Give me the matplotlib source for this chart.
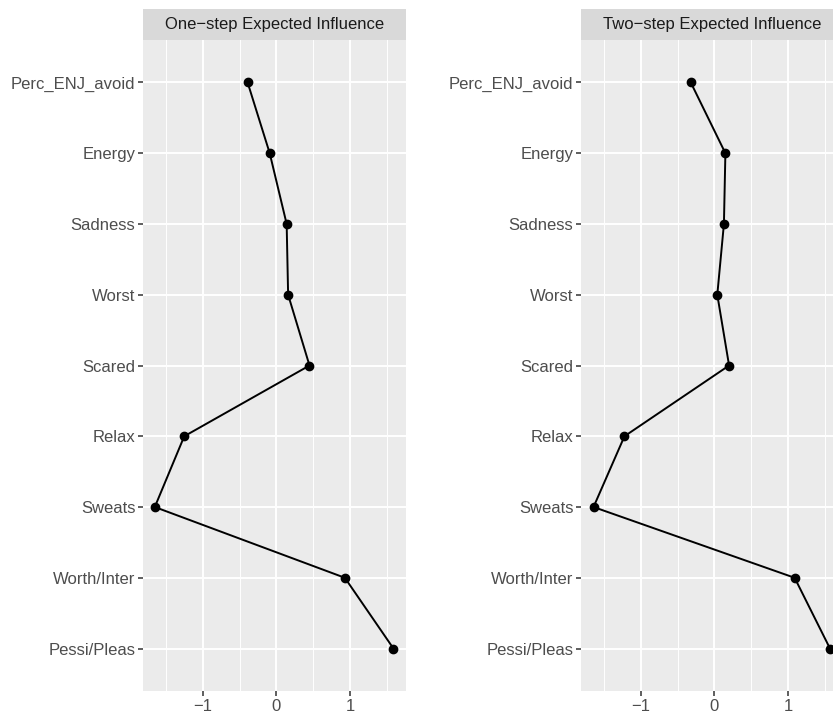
import matplotlib.pyplot as plt

# noeuds du reseau, du haut vers le bas
noeuds = ['Perc_ENJ_avoid', 'Energy', 'Sadness', 'Worst', 'Scared',
          'Relax', 'Sweats', 'Worth/Inter', 'Pessi/Pleas']

# expected influence (valeurs standardisees)
ei_un_pas = [-0.39, -0.09, 0.14, 0.16, 0.45, -1.25, -1.65, 0.93, 1.59]
ei_deux_pas = [-0.32, 0.15, 0.13, 0.04, 0.20, -1.22, -1.64, 1.09, 1.57]

titres = ['One\u2212step Expected Influence', 'Two\u2212step Expected Influence']
ticks_x = [-1, 0, 1]
labels_x = ['\u22121', '0', '1']

plt.rcParams['font.family'] = ['Liberation Sans', 'DejaVu Sans']

W, H = 833, 714
fig = plt.figure(figsize=(W / 100, H / 100), dpi=100)

# positions des panneaux en pixels (gauche, droite) ; le second deborde a droite
panneaux = [(143, 406), (581, 844)]
haut, bas = 40, 691
strip_haut = 9

n = len(noeuds)
ypos = list(range(n))

for (g, d), valeurs, titre in zip(panneaux, [ei_un_pas, ei_deux_pas], titres):
    ax = fig.add_axes([g / W, 1 - bas / H, (d - g) / W, (bas - haut) / H])
    ax.set_facecolor('#EBEBEB')
    for s in ax.spines.values():
        s.set_visible(False)

    # grille facon ggplot
    for x in [-1.5, -0.5, 0.5, 1.5]:
        ax.axvline(x, color='white', lw=0.7, zorder=0)
    for x in ticks_x:
        ax.axvline(x, color='white', lw=1.4, zorder=0)
    for y in ypos:
        ax.axhline(y, color='white', lw=1.4, zorder=0)

    ax.plot(valeurs, ypos, color='black', lw=1.4, zorder=2)
    ax.scatter(valeurs, ypos, s=36, color='black', zorder=3)

    ax.set_xlim(-1.81, 1.76)
    ax.set_ylim(n - 1 + 0.6, -0.6)
    ax.set_xticks(ticks_x)
    ax.set_xticklabels(labels_x)
    ax.set_yticks(ypos)
    ax.set_yticklabels(noeuds)
    ax.tick_params(axis='both', colors='#333333', length=3.5, width=1.1,
                   labelcolor='#4D4D4D', labelsize=12, pad=2)

    # bandeau du facet
    sax = fig.add_axes([g / W, 1 - haut / H, (d - g) / W, (haut - strip_haut) / H])
    sax.set_facecolor('#D9D9D9')
    sax.set_xticks([])
    sax.set_yticks([])
    for s in sax.spines.values():
        s.set_visible(False)
    sax.text(0.5, 0.5, titre, ha='center', va='center', fontsize=12,
             color='#1A1A1A', transform=sax.transAxes)

fig.savefig('out.png', dpi=100, facecolor='white')
